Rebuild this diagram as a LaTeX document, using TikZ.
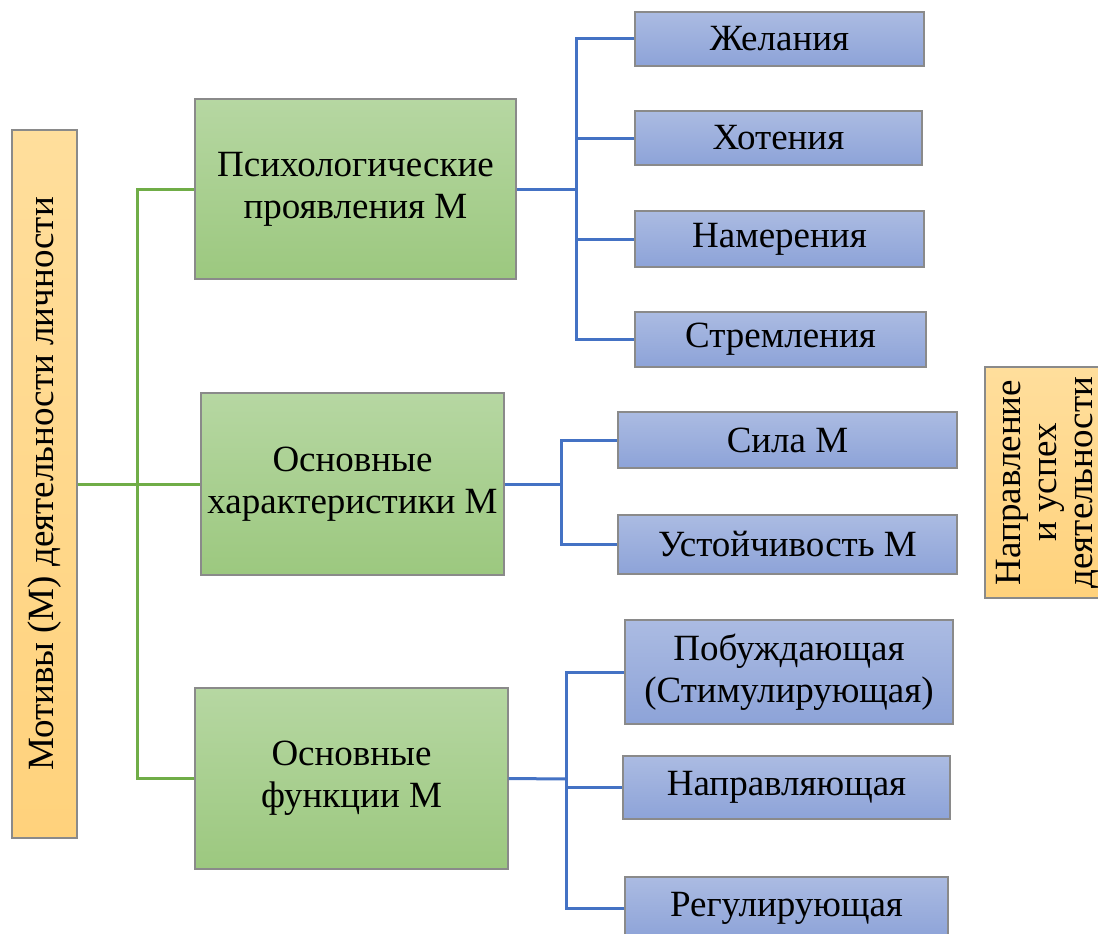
\documentclass[tikz,border=0pt]{standalone}
\usepackage{fontspec}
\setmainfont{Liberation Serif}
\usepackage{tikz}
\usetikzlibrary{positioning}

\definecolor{boxline}{HTML}{8A8A8A}
\definecolor{gline}{HTML}{70AD47}
\definecolor{bline}{HTML}{4472C4}
\definecolor{ortop}{HTML}{FFDE9C}
\definecolor{orbot}{HTML}{FFD27C}
\definecolor{grtop}{HTML}{B6D7A2}
\definecolor{grbot}{HTML}{9CC87F}
\definecolor{bltop}{HTML}{ABBBE2}
\definecolor{blbot}{HTML}{8DA3D8}

\tikzset{
  motbox/.style={draw=boxline, line width=1.3pt, rectangle, inner sep=0pt,
    top color=ortop, bottom color=orbot, align=center},
  grbox/.style={draw=boxline, line width=1.3pt, rectangle, inner sep=0pt,
    top color=grtop, bottom color=grbot, align=center},
  blbox/.style={draw=boxline, line width=1.3pt, rectangle, inner sep=0pt,
    top color=bltop, bottom color=blbot, align=center},
  glink/.style={gline, line width=3pt},
  blink/.style={bline, line width=3pt}
}

\begin{document}
\begin{tikzpicture}[x=1pt, y=-1pt, font=\fontsize{37}{42}\selectfont]
  \useasboundingbox (0,0) rectangle (1098,934);

  % Nodes
  \node [motbox, minimum width=708, minimum height=65, rotate=90] (mot) at (44.5,484) {Мотивы (М) деятельности личности};
  \node [grbox, minimum width=321, minimum height=180] (psy) at (355.5,189) {Психологические\\проявления М};
  \node [grbox, minimum width=303, minimum height=182] (har) at (352.5,484) {Основные\\характеристики М};
  \node [grbox, minimum width=313, minimum height=181] (fun) at (351.5,778.5) {Основные\\функции М};

  \node [blbox, minimum width=289, minimum height=54] (zhel) at (779.5,39) {Желания};
  \node [blbox, minimum width=287, minimum height=54] (hot) at (778.5,138) {Хотения};
  \node [blbox, minimum width=289, minimum height=56] (nam) at (779.5,239) {Намерения};
  \node [blbox, minimum width=291, minimum height=55] (strem) at (780.5,339.5) {Стремления};

  \node [blbox, minimum width=339, minimum height=56] (sila) at (787.5,440) {Сила М};
  \node [blbox, minimum width=339, minimum height=59] (ust) at (787.5,544.5) {Устойчивость М};

  \node [blbox, minimum width=328, minimum height=104] (pob) at (789,672) {Побуждающая\\(Стимулирующая)};
  \node [blbox, minimum width=327, minimum height=63] (napr) at (786.5,787.5) {Направляющая};
  \node [blbox, minimum width=323, minimum height=62] (reg) at (786.5,908) {Регулирующая};

  \node [motbox, minimum width=231, minimum height=125, rotate=90,
    font=\fontsize{37}{36}\selectfont] (usp) at (1047.5,482.5) {Направление\\и успех\\деятельности};

  % Joints
  \coordinate (gj) at (137,484);
  \coordinate (j1) at (576,189);
  \coordinate (j2) at (561,484);
  \coordinate (j3) at (566,779);

  % Lines
  \draw [glink] (mot) -- (har);
  \draw [glink] (psy.west) -| (gj) |- (fun.west);

  \draw [blink] (psy.east) -- (j1);
  \foreach \n in {zhel, hot, nam, strem}
    \draw [blink] (j1) |- (\n.west);

  \draw [blink] (har.east) -- (j2);
  \foreach \n in {sila, ust}
    \draw [blink] (j2) |- (\n.west);

  \draw [blink] (fun.east) -- (j3);
  \foreach \n in {pob, napr, reg}
    \draw [blink] (j3) |- (\n.west);
\end{tikzpicture}
\end{document}
